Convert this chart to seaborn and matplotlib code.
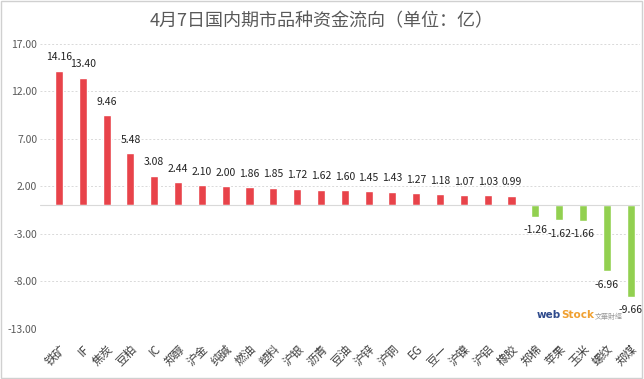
import numpy as np
import pandas as pd
import matplotlib
matplotlib.use("Agg")
import matplotlib.pyplot as plt
import seaborn as sns

# 品种 / 资金流向 (亿)
categories = ["铁矿", "IF", "焦炭", "豆粕", "IC", "郑醇", "沪金", "纯碱", "燃油", "塑料",
              "沪银", "沥青", "豆油", "沪锌", "沪铜", "EG", "豆一", "沪镍", "沪铝", "橡胶",
              "郑棉", "苹果", "玉米", "螺纹", "郑煤"]
flows = [14.16, 13.40, 9.46, 5.48, 3.08, 2.44, 2.10, 2.00, 1.86, 1.85,
         1.72, 1.62, 1.60, 1.45, 1.43, 1.27, 1.18, 1.07, 1.03, 0.99,
         -1.26, -1.62, -1.66, -6.96, -9.66]
yticks = [-13, -8, -3, 2, 7, 12, 17]

title = "4月7日国内期市品种资金流向（单位：亿）"

df = pd.DataFrame({"品种": categories, "资金": flows})
df["方向"] = np.where(df["资金"] >= 0, "in", "out")

sns.set_theme(style="white")
plt.rcParams['font.family'] = ['Noto Sans CJK SC', 'DejaVu Sans']
plt.rcParams['axes.unicode_minus'] = False

fig = plt.figure(figsize=(6.44, 3.79), dpi=100)
ax = fig.add_axes([0.062, 0.133, 0.932, 0.752])

sns.barplot(data=df, x="品种", y="资金", hue="方向",
            palette={"in": "#E8434A", "out": "#92D050"},
            dodge=False, width=0.34, legend=False, ax=ax, saturation=1)

for cont in ax.containers:
    labels = [f"{v:.2f}" for v in cont.datavalues]
    ax.bar_label(cont, labels=labels, padding=6, fontsize=7.5, color="#222222")

ax.set_ylim(-13, 17)
ax.set_yticks(yticks)
ax.set_yticklabels([f"{t:.2f}" for t in yticks], fontsize=7.5, color="#595959")
ax.set_xlim(-0.8, 24.4)
ax.grid(axis="y", color="#D9D9D9", linestyle=(0, (2, 2)), linewidth=0.7)
ax.set_axisbelow(True)
ax.axhline(0, color="#D9D9D9", linewidth=0.8)
for s in ax.spines.values():
    s.set_visible(False)
ax.set_xlabel("")
ax.set_ylabel("")
ax.tick_params(axis="x", length=0, pad=10)
ax.tick_params(axis="y", length=0, pad=2)
plt.setp(ax.get_xticklabels(), rotation=45, ha="right", rotation_mode="anchor",
         fontsize=8.5, color="#404040")

fig.text(0.5, 0.945, title, ha="center", va="center", fontsize=13, color="#595959")

# 水印
fig.text(0.834, 0.168, "web", ha="left", va="center", fontsize=7.5,
         color="#2E4A8C", fontweight="bold", family=['DejaVu Sans'])
fig.text(0.872, 0.168, "Stock", ha="left", va="center", fontsize=7.5,
         color="#F0A030", fontweight="bold", family=['DejaVu Sans'])
fig.text(0.923, 0.163, "文華財經", ha="left", va="center", fontsize=5, color="#999999")

fig.patches.append(plt.Rectangle((0.002, 0.003), 0.995, 0.994, transform=fig.transFigure,
                                 fill=False, edgecolor="#D0D0D0", linewidth=1))

fig.savefig("out.png", dpi=100)
